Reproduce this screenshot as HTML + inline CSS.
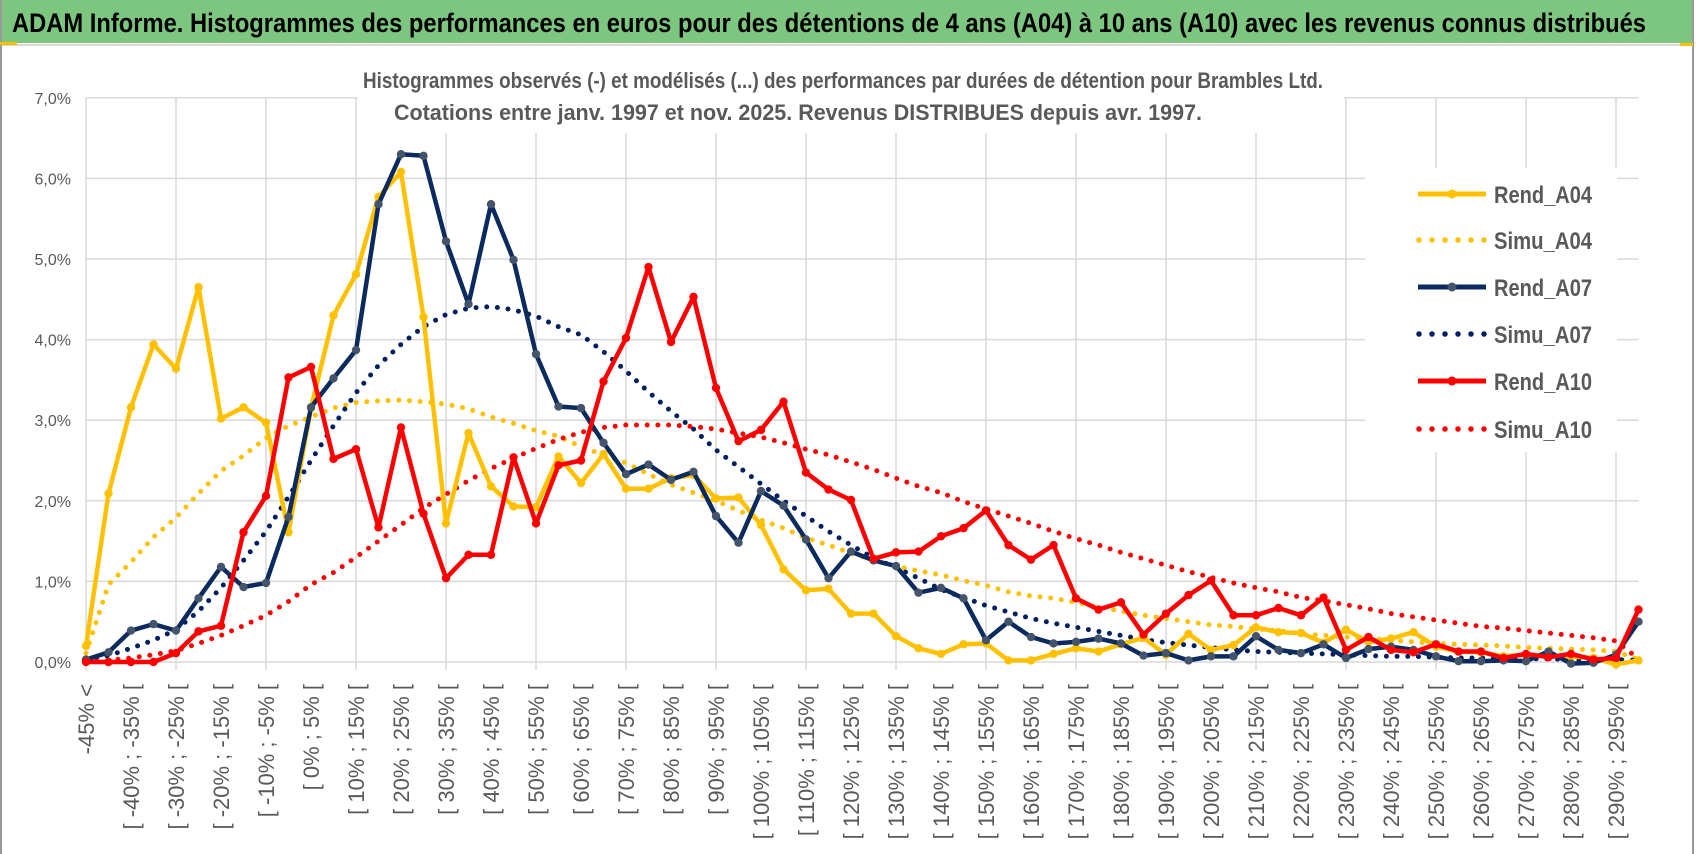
<!DOCTYPE html>
<html><head><meta charset="utf-8"><style>
html,body{margin:0;padding:0;background:#fff;}
#wrap{position:relative;width:1698px;height:854px;overflow:hidden;}
svg{display:block;}
</style></head><body>
<div id="wrap">
<svg id="chart" width="1698" height="854" xmlns="http://www.w3.org/2000/svg">
  <rect x="0" y="0" width="1698" height="854" fill="#ffffff"/>
  <rect x="0" y="0" width="1694" height="43" fill="#7dc67f"/>
  <text x="12" y="32" font-family="Liberation Sans Narrow, Liberation Sans, sans-serif" font-weight="bold" font-size="27" fill="#000" textLength="1634" lengthAdjust="spacingAndGlyphs">ADAM Informe. Histogrammes des performances en euros pour des détentions de 4 ans (A04) à 10 ans (A10) avec les revenus connus distribués</text>
  <line x1="0" y1="45" x2="1694" y2="45" stroke="#d9d9d9" stroke-width="2"/>
  <line x1="1" y1="0" x2="1" y2="854" stroke="#9a9a9a" stroke-width="2"/>
  <line x1="1693" y1="0" x2="1693" y2="854" stroke="#9a9a9a" stroke-width="2"/>
  <rect x="0" y="42" width="17" height="3" fill="#ffc000"/>
  <rect x="1680" y="43" width="13" height="3" fill="#ffc000"/>
  <g id="grid"></g>
  <g id="yaxis"></g>
  <g id="xaxis"></g>
  <rect x="358" y="50" width="986" height="83" fill="#fff"/>
  <text x="363" y="88" font-family="Liberation Sans Narrow, Liberation Sans, sans-serif" font-weight="bold" font-size="22" fill="#595959" textLength="960" lengthAdjust="spacingAndGlyphs">Histogrammes observés (-)  et modélisés (...)  des performances par durées de détention pour Brambles Ltd.</text>
  <text x="394" y="120" font-family="Liberation Sans Narrow, Liberation Sans, sans-serif" font-weight="bold" font-size="22" fill="#595959" textLength="808" lengthAdjust="spacingAndGlyphs">Cotations entre janv. 1997 et nov. 2025. Revenus DISTRIBUES depuis avr. 1997.</text>
  <rect x="1365" y="168" width="252" height="284" fill="#fff"/>
  <g id="series"></g>
  <g id="legend"></g>
</svg>
</div>
<script>
var rendA04 = [0.2,2.09,3.16,3.94,3.64,4.65,3.02,3.16,2.97,1.61,
3.15,4.30,4.81,5.77,6.08,4.28,1.72,2.84,2.18,1.93,
1.92,2.55,2.22,2.58,2.15,2.15,2.28,2.32,2.03,2.04,
1.70,1.15,0.89,0.91,0.60,0.60,0.32,0.17,0.10,0.22,
0.23,0.02,0.02,0.10,0.17,0.13,0.22,0.30,0.09,0.35,
0.15,0.21,0.43,0.37,0.36,0.24,0.40,0.25,0.29,0.37,
0.19,0.13,0.12,0.07,0.09,0.07,0.07,0.05,-0.03,0.02];
var simuA04 = [0.11,0.96,1.24,1.55,1.79,2.09,2.37,2.56,2.78,2.93,
3.04,3.15,3.22,3.24,3.25,3.23,3.20,3.14,3.04,2.96,
2.87,2.80,2.67,2.57,2.47,2.33,2.20,2.10,2.00,1.88,
1.76,1.66,1.54,1.45,1.35,1.26,1.19,1.13,1.08,1.01,
0.95,0.87,0.82,0.79,0.74,0.68,0.63,0.58,0.54,0.50,
0.46,0.44,0.41,0.39,0.35,0.33,0.31,0.29,0.27,0.25,
0.23,0.22,0.21,0.20,0.18,0.17,0.16,0.15,0.13,0.03];
var rendA07 = [0.03,0.12,0.39,0.47,0.39,0.79,1.18,0.93,0.98,1.80,
3.16,3.52,3.87,5.68,6.30,6.28,5.22,4.44,5.68,4.99,
3.82,3.17,3.15,2.72,2.33,2.45,2.26,2.36,1.81,1.48,
2.12,1.94,1.52,1.04,1.37,1.26,1.19,0.86,0.92,0.79,
0.27,0.50,0.31,0.23,0.25,0.29,0.23,0.08,0.11,0.02,
0.07,0.07,0.32,0.15,0.11,0.22,0.05,0.16,0.19,0.15,
0.07,0.01,0.01,0.02,0.01,0.13,-0.02,-0.01,0.09,0.50];
var simuA07 = [0.03,0.08,0.17,0.27,0.40,0.63,0.92,1.26,1.62,2.05,
2.50,2.93,3.34,3.68,3.94,4.16,4.31,4.39,4.41,4.37,
4.29,4.16,4.06,3.85,3.61,3.35,3.11,2.89,2.63,2.42,
2.21,2.00,1.81,1.62,1.45,1.29,1.17,1.04,0.90,0.80,
0.70,0.62,0.54,0.48,0.43,0.38,0.33,0.28,0.24,0.21,
0.18,0.15,0.13,0.12,0.11,0.10,0.09,0.08,0.07,0.07,
0.06,0.05,0.05,0.04,0.04,0.04,0.03,0.03,0.03,0.02];
var rendA10 = [0,0,0,0,0.11,0.38,0.45,1.61,2.06,3.53,
3.66,2.52,2.64,1.67,2.91,1.84,1.04,1.33,1.33,2.54,
1.72,2.44,2.50,3.48,4.02,4.90,3.97,4.53,3.40,2.74,
2.88,3.23,2.35,2.14,2.01,1.28,1.36,1.37,1.56,1.66,
1.88,1.45,1.27,1.45,0.79,0.65,0.74,0.34,0.60,0.83,
1.01,0.58,0.58,0.67,0.58,0.80,0.15,0.31,0.15,0.12,
0.22,0.13,0.13,0.05,0.10,0.06,0.10,0.03,0.05,0.65];
var simuA10 = [0.0,0.02,0.05,0.09,0.14,0.23,0.33,0.45,0.58,0.75,
0.96,1.11,1.30,1.50,1.70,1.91,2.08,2.25,2.40,2.53,
2.65,2.76,2.85,2.91,2.94,2.94,2.94,2.92,2.89,2.84,
2.79,2.72,2.64,2.57,2.48,2.39,2.28,2.18,2.10,1.99,
1.90,1.81,1.72,1.62,1.53,1.45,1.36,1.28,1.20,1.12,
1.05,0.98,0.92,0.87,0.80,0.76,0.71,0.66,0.60,0.56,
0.52,0.48,0.44,0.42,0.39,0.36,0.33,0.30,0.26,0.04];
var yTicks = [0,1,2,3,4,5,6,7];
var yTickLabels = ["0,0%","1,0%","2,0%","3,0%","4,0%","5,0%","6,0%","7,0%"];
var seriesNames = ["Rend_A04","Simu_A04","Rend_A07","Simu_A07","Rend_A10","Simu_A10"];
var categories = ["-45% <"];
for (var c = 1; c < 70; c++) { categories.push("[ " + (-50 + 5*c) + "% ; " + (-45 + 5*c) + "% ["); }

var NS = "http://www.w3.org/2000/svg";
var X0 = 86, DX = 22.5, Y0 = 662, DY = 80.6;
function xScale(i){ return X0 + i*DX; }
function yScale(v){ return Y0 - v*DY; }
function mk(tag, attrs, parent){
  var el = document.createElementNS(NS, tag);
  for (var k in attrs) el.setAttribute(k, attrs[k]);
  parent.appendChild(el);
  return el;
}
var grid = document.getElementById('grid');
var yaxis = document.getElementById('yaxis');
var xaxis = document.getElementById('xaxis');
var xRight = xScale(categories.length - 1);
yTicks.forEach(function(t, k){
  var y = yScale(t);
  var ln = mk('line', {x1:X0, x2:xRight, y1:y, y2:y, stroke:'#d9d9d9', 'stroke-width':1.5}, grid);
  
  
  var tx = mk('text', {x:71, y:y+6, 'text-anchor':'end', 'font-family':'Liberation Sans, sans-serif', 'font-size':16, fill:'#595959'}, yaxis);
  tx.textContent = yTickLabels[k];
  
  
});
for (var i = 0; i < categories.length; i += 4) {
  var gx = xScale(i);
  var vl = mk('line', {x1:gx, x2:gx, y1:yScale(7), y2:Y0 + 8, stroke:'#d9d9d9', 'stroke-width':1.5}, grid);
  
  
}
for (var j = 0; j < categories.length; j += 2) {
  var lx = xScale(j) + 8;
  var lt = mk('text', {x:0, y:0, transform:'translate(' + lx + ',684) rotate(-90)', 'text-anchor':'end', 'font-family':'Liberation Sans, sans-serif', 'font-size':22, fill:'#595959'}, xaxis);
  lt.textContent = categories[j];
  
  
}
var seriesG = document.getElementById('series');
function pts(arr){ return arr.map(function(v,i){ return xScale(i).toFixed(1) + ',' + yScale(v).toFixed(1); }).join(' '); }
function dotted(arr, color, name){
  var p = mk('polyline', {points:pts(arr), fill:'none', stroke:color, 'stroke-width':5, 'stroke-linecap':'round', 'stroke-dasharray':'0 10.7'}, seriesG);
  
  
}
function solid(arr, color, mcolor, name){
  var g = mk('g', {}, seriesG);
  
  
  var p = mk('polyline', {points:pts(arr), fill:'none', stroke:color, 'stroke-width':4.5, 'stroke-linejoin':'round'}, g);
  
  
  arr.forEach(function(v,i){
    var m = mk('circle', {cx:xScale(i), cy:yScale(v), r:4.2, fill:mcolor}, g);
    
    
  });
}
dotted(simuA04, '#ffc000', 'simu-a04-series');
dotted(simuA07, '#002060', 'simu-a07-series');
dotted(simuA10, '#ff0000', 'simu-a10-series');
solid(rendA04, '#ffc000', '#ffc000', 'rend-a04-series');
solid(rendA07, '#0b2a5e', '#44546a', 'rend-a07-series');
solid(rendA10, '#ff0000', '#ff0000', 'rend-a10-series');

var legend = document.getElementById('legend');
var legColors = ['#ffc000','#ffc000','#0b2a5e','#002060','#ff0000','#ff0000'];
var legMarker = ['#ffc000',null,'#44546a',null,'#ff0000',null];
var legY = [194,240,287,334,381,429];
seriesNames.forEach(function(nm, k){
  var g = mk('g', {}, legend);
  
  
  var y = legY[k];
  if (legMarker[k]) {
    mk('line', {x1:1418, x2:1486, y1:y, y2:y, stroke:legColors[k], 'stroke-width':5}, g);
    mk('circle', {cx:1452, cy:y, r:4.5, fill:legMarker[k]}, g);
  } else {
    mk('line', {x1:1419, x2:1486, y1:y, y2:y, stroke:legColors[k], 'stroke-width':5.5, 'stroke-linecap':'round', 'stroke-dasharray':'0 13'}, g);
  }
  var t = mk('text', {x:1494, y:y+9, 'font-family':'Liberation Sans Narrow, Liberation Sans, sans-serif', 'font-weight':'bold', 'font-size':24, fill:'#595959', textLength:98, lengthAdjust:'spacingAndGlyphs'}, g);
  t.textContent = nm;
  
  
});
</script>
</body></html>
